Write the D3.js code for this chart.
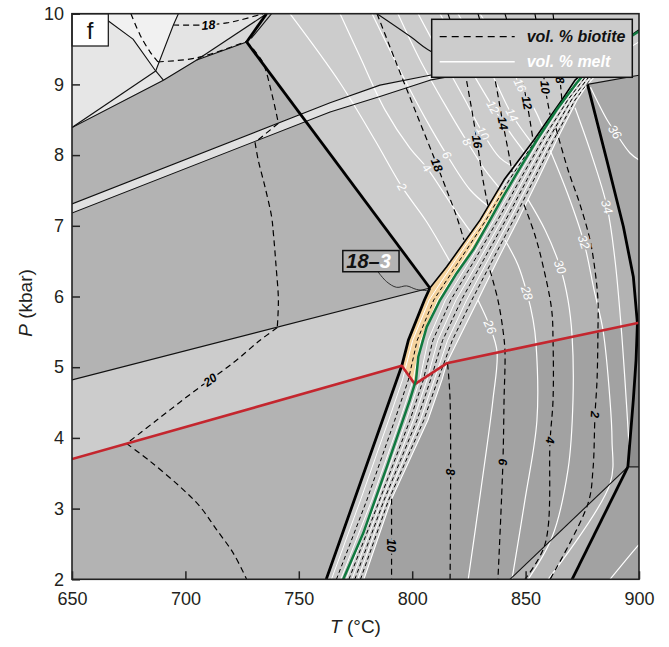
<!DOCTYPE html>
<html><head><meta charset="utf-8">
<script src="https://cdn.jsdelivr.net/npm/d3@7"></script>
<style>
html,body{margin:0;padding:0;background:#fff;}
svg text{font-family:"Liberation Sans",Arial,Helvetica,sans-serif;}
</style></head><body>
<svg id="chart" width="669" height="647"></svg>
<script>
// ---------- axes ----------
const tempTicks = [650,700,750,800,850,900];
const presTicks = [2,3,4,5,6,7,8,9,10];

// ---------- field boundaries (T in °C, P in kbar) ----------
const L1 = [[650,8.39],[690.3,9.06],[705,9.345],[727,9.60]];
const L2 = [[650,8.39],[686.9,9.19]];
const L3 = [[662.3,10],[665.9,9.90],[676.9,9.64],[686.9,9.19]];
const L4 = [[686.9,9.19],[694.7,9.84],[696.9,10]];
const L4b = [[686.9,9.19],[690.3,9.06]];
const L5 = [[705,9.345],[735.8,10]];
const T1 = [[727,9.60],[807.8,6.12]];
const T1top = [[727,9.60],[735.8,10]];
const T1topThin = [[729,9.65],[738,10]];
const lineLow = [[650,4.82],[807.8,6.12]];
const bandU = [[650,7.31],[763.8,8.74],[785.8,8.99],[807.8,9.13],[829.9,9.26],[865.2,9.40]];
const bandLo = [[650,7.18],[763.8,8.61],[785.8,8.83],[807.8,9.06],[829.9,9.19],[865.2,9.35]];
const curveTop = [[784.5,10],[799.5,9.67],[807.0,9.49],[821.1,9.27],[838.7,9.18]];
const redLine = [[650,3.70],[795.4,5.02],[801.2,4.76],[815.2,5.055],[900,5.63]];
const greenLine = [[769.6,2.0],[778.4,2.65],[788.8,3.59],[799.0,4.54],[801.7,4.82],[802.7,5.15],[806.4,5.57],[812.3,5.95],[819.6,6.33],[826.9,6.66],[834.3,7.08],[840.0,7.41],[846.1,7.74],[854.9,8.21],[863.7,8.64],[872.5,9.02],[875.4,9.13],[887.2,9.49],[900,9.75]];
const meltL = [[762.1,2.0],[795.4,5.02],[798.3,5.38],[805.4,5.95],[807.8,6.12],[815.2,6.42],[822.5,6.75],[829.9,7.08],[840.5,7.65],[853.6,8.21],[866.0,8.78],[871.8,9.06],[882.8,9.37],[893.8,9.63],[900,9.77]];
const meltR = [[778.7,2.0],[790.7,3.12],[806.9,4.25],[813.1,4.82],[815.2,5.055],[820.2,5.38],[829.0,5.95],[837.7,6.52],[846.6,7.08],[855.4,7.65],[863.7,8.21],[872.7,8.78],[877.3,9.0],[887.2,9.35],[900,9.60]];
const R1 = [[877.3,9.0],[885.8,7.93],[893.1,6.99],[897.5,6.28],[899.3,5.62],[898.7,5.10],[897.5,4.54],[895.1,3.59]];
const R2 = [[895.1,3.59],[870.5,2.0]];
const triLine = [[843.1,2.0],[895.1,3.59]];
const stripLine = [[895.1,3.59],[900,3.59]];
const thinTR = [[877.3,9.0],[900,9.13]];
const orangeZone = [[795.4,5.02],[798.3,5.38],[805.4,5.95],[807.8,6.12],[815.2,6.42],[822.5,6.75],[829.9,7.08],[837.5,7.5],[841.5,7.5],[834.3,7.08],[826.9,6.66],[819.6,6.33],[812.3,5.95],[806.4,5.57],[802.7,5.15],[801.7,4.82],[801.2,4.76]];

// ---------- isopleths inside the narrow melt-in band ----------
const bandP = [2.0,3.12,4.25,4.82,5.38,5.95,6.52,7.08,7.65,8.21,8.78,9.12];
const bandA = [764.4,777.2,789.6,795.7,800.2,807.5,819.2,831.2,841.7,854.0,866.3,874.3];
const bandB = [766.6,780.0,792.3,798.3,802.2,809.5,821.1,832.5,842.8,854.4,866.6,874.6];
const bandC = [768.5,782.2,794.6,800.4,803.8,811.3,822.7,833.6,843.8,854.7,866.9,874.9];
const bandD = [770.9,784.6,797.4,803.3,807.0,814.6,825.7,836.0,845.9,856.1,867.8,875.9];
const bandE = [772.1,785.6,799.0,804.9,809.1,817.0,827.6,837.7,847.5,857.4,868.6,876.7];
const bandF = [773.4,786.6,800.5,806.5,811.3,819.3,829.6,839.5,849.0,858.6,869.4,877.5];
const bandG = [774.7,787.6,802.1,808.1,813.4,821.7,831.5,841.2,850.6,859.8,870.2,878.2];
const bandH = [776.0,788.6,803.6,809.7,815.6,824.0,833.5,842.9,852.1,861.1,871.0,879.0];
const bandI = [777.2,789.6,805.1,811.3,817.7,826.3,835.5,844.6,853.6,862.3,871.8,879.8];

// ---------- vol. % biotite isopleths ----------
const bio20a = [[676,10],[680.0,9.70],[684.4,9.46],[687.9,9.32]];
const bio20b = [[687.9,9.32],[705.0,9.375],[727.0,9.61]];
const bio20c = [[727.0,9.61],[731.4,9.44],[734.3,9.30],[738.1,8.87],[741.0,8.45]];
const bio20d = [[741.0,8.45],[730.7,8.18]];
const bio20e = [[730.7,8.18],[732.1,7.93],[735.1,7.55],[738.0,7.13],[738.8,6.89],[740.0,6.42],[741.0,5.95],[740.5,5.56]];
const bio20f = [[740.5,5.56],[732.9,5.38],[721.0,5.06],[706.4,4.72],[687.3,4.25],[674.1,3.92]];
const bio20g = [[674.1,3.92],[684.4,3.67],[697.6,3.31],[706.4,3.03],[713.8,2.70],[721.1,2.37],[727.0,2.0]];
const bio18top = [[694.6,9.84],[707.3,9.84],[718.3,9.87],[724.1,9.91],[734.2,10]];
const b18u = [[784.5,10],[792.4,9.35],[801.2,8.64],[810.9,7.86],[819.7,7.12],[822.8,6.80]];
const b16u = [[815.8,10],[822.0,9.35],[825.5,8.78],[828.6,8.19],[831.2,7.65],[833.4,7.29]];
const b14u = [[829.0,10],[835.2,9.27],[840.0,8.45],[843.1,7.93],[844.0,7.76]];
const b12u = [[840.9,10],[846.6,9.35],[850.6,8.74],[853.3,8.21]];
const b10u = [[854.1,10],[856.8,9.49],[858.6,8.96],[860.8,8.57]];
const b8u = [[862.1,10],[863.8,9.49],[865.2,9.06],[866.0,8.78]];
const b10 = [[790.9,3.14],[790.9,2.0]];
const b8 = [[815.6,5.05],[816.7,4.54],[816.7,2.0]];
const b6 = [[834.3,6.37],[837.8,5.95],[840.0,5.53],[840.9,5.22],[840.5,4.54],[840.0,3.66],[837.8,2.0]];
const b4 = [[849.3,7.30],[854.1,6.87],[857.8,6.42],[861.5,5.81],[862.1,5.37],[862.1,4.54],[860.8,3.97],[858.6,2.50],[849.7,2.0]];
const b2 = [[863.4,8.38],[868.7,7.79],[874.0,7.30],[878.4,6.80],[880.6,6.37],[881.9,5.95],[881.9,5.51],[881.5,4.82],[880.6,4.33],[879.7,3.55],[877.5,3.07],[860.8,2.0]];

// ---------- vol. % melt isopleths ----------
const m2 = [[746.1,10],[768.2,9.02],[783.6,8.21],[795.5,7.55],[806.5,7.05],[816.7,6.49]];
const m4 = [[768.2,10],[777.0,9.39],[788.0,8.64],[799.0,8.10],[806.5,7.82],[817.5,7.29],[825.9,6.91]];
const m6 = [[782.3,10],[794.6,9.2],[805.6,8.53],[815.3,8.00],[825.5,7.51],[833.4,7.28]];
const m8 = [[793.7,10],[803.4,9.35],[814.5,8.71],[824.2,8.19],[832.1,7.79],[838.6,7.53]];
const m10 = [[802.6,10],[812.3,9.42],[823.3,8.78],[831.2,8.31],[838.7,7.96],[845.0,7.83]];
const m12 = [[812.3,10],[823.3,9.35],[835.6,8.68],[844.0,8.28],[849.6,8.04]];
const m14 = [[820.2,10],[834.3,9.20],[844.0,8.57],[852.8,8.17]];
const m16 = [[829.9,10],[840.9,9.42],[847.5,8.99],[854.1,8.64],[857.5,8.40]];
const m26 = [[829.0,5.95],[834.3,5.57],[837.4,5.22],[835.6,4.54],[830.3,3.27],[824.7,2.0]];
const m28 = [[840.9,6.80],[846.6,6.45],[850.6,6.05],[853.3,5.67],[854.6,5.33],[855.0,4.25],[849.7,3.12],[844.0,2.0]];
const m30 = [[851.1,7.37],[858.6,6.94],[865.2,6.42],[868.7,5.95],[870.5,5.44],[870.9,4.54],[868.7,3.55],[861.6,2.59],[851.1,2.0]];
const m32 = [[860.8,8.07],[868.7,7.44],[875.7,6.77],[880.2,6.09],[884.1,5.53],[887.2,4.54],[888.1,3.97],[887.2,3.35],[859.9,2.0]];
const m34 = [[871.8,8.67],[878.4,8.07],[885.9,7.27],[889.4,6.52],[892.1,5.58],[893.8,4.82],[895.6,3.90]];
const m36 = [[878.6,8.96],[885.9,8.50],[889.4,8.33],[896.0,8.03],[900,7.93]];
const mRight = [[887.2,2.0],[899.1,2.46],[900,2.49]];

// ---------- contour labels ----------
const labelsMeltUpper = [{t:"2",c:"m2",T:795.5,P:7.55},{t:"4",c:"m4",T:806.5,P:7.82},{t:"6",c:"m6",T:815.3,P:8.00},{t:"8",c:"m8",T:824.2,P:8.19},{t:"10",c:"m10",T:831.2,P:8.31},{t:"12",c:"m12",T:835.6,P:8.68},{t:"14",c:"m14",T:844.0,P:8.57},{t:"16",c:"m16",T:847.5,P:8.99}];
const labelsBioUpper = [{t:"18",c:"b18u",T:810.9,P:7.86},{t:"16",c:"b16u",T:828.6,P:8.19},{t:"14",c:"b14u",T:840.0,P:8.45},{t:"12",c:"b12u",T:850.6,P:8.74},{t:"10",c:"b10u",T:858.6,P:8.96},{t:"8",c:"b8u",T:865.2,P:9.06}];
const labelsMeltRight = [{t:"26",c:"m26",T:834.3,P:5.57},{t:"28",c:"m28",T:850.6,P:6.05},{t:"30",c:"m30",T:865.2,P:6.42},{t:"32",c:"m32",T:875.7,P:6.77},{t:"34",c:"m34",T:885.9,P:7.27}];
const labelsMeltFar = [{t:"36",c:"m36",T:889.4,P:8.33}];
const labelsBioLower = [{t:"10",c:"b10",T:790.9,P:2.48},{t:"8",c:"b8",T:816.7,P:3.52},{t:"6",c:"b6",T:840.0,P:3.66},{t:"4",c:"b4",T:860.8,P:3.97},{t:"2",c:"b2",T:880.6,P:4.33}];
const labelsBioLeft = [{t:"20",c:"bio20f",T:710.9,P:4.82}];
const labelsBioTop = [{t:"18",c:"bio18top",T:710.1,P:9.84}];
const assemblageLabel = {box:[[769.4,6.65],[794.2,6.35]], leader:[[784.9,6.35],[788.7,6.21],[793.1,6.13],[797.5,6.15],[801.9,6.10],[807.8,6.08]], a:"18–", b:"3"};
const panelLetter = "f";
const legendItems = ["vol. % biotite","vol. % melt"];

// ================= drawing =================
const W0=72, W1=639, H0=13.7, H1=579.3;
const X = d3.scaleLinear().domain([650,900]).range([W0,W1]);
const Y = d3.scaleLinear().domain([2,10]).range([H1,H0]);
const svg = d3.select('#chart');
svg.append('defs').append('clipPath').attr('id','clip').append('rect')
  .attr('x',W0).attr('y',H0).attr('width',W1-W0).attr('height',H1-H0);
const plot = svg.append('g').attr('clip-path','url(#clip)');
const lin = d3.line().x(d=>X(d[0])).y(d=>Y(d[1]));
const smooth = d3.line().x(d=>X(d[0])).y(d=>Y(d[1])).curve(d3.curveCatmullRom.alpha(0.5));
const zipBand = arr => arr.map((t,i)=>[t,bandP[i]]);

function poly(pts, fill){ plot.append('path').attr('d', lin(pts)+'Z').attr('fill',fill).attr('stroke',fill).attr('stroke-width',0.4); }
function path(pts, color, w, dash, curved){
  const p = plot.append('path').attr('d',(curved?smooth:lin)(pts)).attr('fill','none')
    .attr('stroke',color).attr('stroke-width',w).attr('stroke-linejoin','round');
  if(dash) p.attr('stroke-dasharray',dash);
  return p;
}

// background & fields
poly([[650,2],[900,2],[900,10],[650,10]], '#cccccc');
poly([[650,10],[662.3,10]].concat(L3.slice(1),[L4b[1],L1[0]]), '#e6e6e6');
poly(L3.concat(L4.slice(1)), '#f1f1f1');
poly(L4.slice().reverse().concat([L1[1],L1[2],L5[1]]), '#e4e4e4');
poly([L1[2],L1[3],T1top[1]], '#d8d8d8');
poly(L1.concat([T1[1],lineLow[0]]), '#b3b3b3');
poly(bandU.concat(bandLo.slice().reverse()), '#e0e0e0');
poly([[650,2],redLine[0],redLine[1],meltL[0]], '#b3b3b3');
poly(meltR.slice(0,5).reverse().concat([[900,2],[900,5.63]]), '#a2a2a2');
poly(meltR.slice(4,13).concat(R1.slice(1,5),[[900,5.63]]), '#b3b3b3');
poly(meltR.slice(12).concat([[900,9.13]]), '#c4c4c4');
poly(R1.slice(0,5).concat([[900,5.63],[900,9.13]]), '#a8a8a8');
poly(R1.slice(4).concat([[900,3.59],[900,5.63]]), '#8e8e8e');
poly([triLine[0],triLine[1],R2[1]], '#b5b5b5');
poly(meltL.concat(meltR.slice().reverse()), '#cbcbcb');
poly(orangeZone, '#f5d39e');

// band interior isopleths
[bandA,bandC,bandD,bandF,bandH].forEach(a=>path(zipBand(a),'#ffffff',1,null,false));
[bandB,bandE,bandG,bandI].forEach(a=>path(zipBand(a),'#000000',1,'4,3',false));
path(meltR,'#ffffff',1.1,null,false);

// melt isopleths (white)
[m2,m4,m6,m8,m10,m12,m14,m16,m26,m28,m30,m32,m34,m36,mRight].forEach(a=>path(a,'#ffffff',1.2,null,true));
// biotite isopleths (dashed)
[bio20a,bio20b,bio20c,bio20d,bio20e,bio20f,bio20g,bio18top,b18u,b16u,b14u,b12u,b10u,b8u,b10,b8,b6,b4,b2]
  .forEach(a=>path(a,'#000000',1.2,'6,4',true));

// thin boundaries
[L1,L2,L3,L4,L4b,L5,T1topThin,lineLow,bandU,bandLo,triLine,stripLine,thinTR].forEach(a=>path(a,'#111',1.1,null,false));
path(curveTop,'#111',1.1,null,true);
path(meltL.slice(4),'#000',1.6,null,false);
// thick boundaries
[T1,T1top,R1,R2].forEach(a=>path(a,'#000',2.8,null,false));
path(meltL.slice(0,5),'#000',2.8,null,false);
// red and green
path(redLine,'#c4262e',2.6,null,false);
path(greenLine,'#117a40',2.5,null,false);

// labels
const contours = {m2,m4,m6,m8,m10,m12,m14,m16,m26,m28,m30,m32,m34,m36,b18u,b16u,b14u,b12u,b10u,b8u,b10,b8,b6,b4,b2,bio20f,bio18top};
function angleAt(pts,px,py){
  let best=1e9, ang=0;
  for(let i=0;i<pts.length-1;i++){
    const ax=X(pts[i][0]), ay=Y(pts[i][1]), bx=X(pts[i+1][0]), by=Y(pts[i+1][1]);
    const dx=bx-ax, dy=by-ay, L2s=dx*dx+dy*dy;
    let t=L2s?((px-ax)*dx+(py-ay)*dy)/L2s:0; t=Math.max(0,Math.min(1,t));
    const qx=ax+t*dx-px, qy=ay+t*dy-py, d=qx*qx+qy*qy;
    if(d<best){best=d; ang=Math.atan2(dy,dx)*180/Math.PI;}
  }
  if(ang>120) ang-=180; if(ang<=-60) ang+=180;
  return ang;
}
function addLabels(list, fill, bg, size, weight, style){
  list.forEach(d=>{
    const px=X(d.T), py=Y(d.P), ang=angleAt(contours[d.c],px,py);
    plot.append('text').attr('transform',`translate(${px},${py}) rotate(${ang})`)
      .attr('text-anchor','middle').attr('dy','0.35em')
      .attr('font-size',size).attr('font-weight',weight).attr('font-style',style)
      .attr('fill',fill).attr('stroke',bg).attr('stroke-width',4).attr('stroke-linejoin','round')
      .attr('paint-order','stroke').text(d.t);
  });
}
addLabels(labelsMeltUpper,'#fff','#cccccc',12,'normal','italic');
addLabels(labelsBioUpper,'#000','#cccccc',12,'bold','italic');
addLabels(labelsMeltRight,'#fff','#b3b3b3',12.5,'normal','italic');
addLabels(labelsMeltFar,'#fff','#a8a8a8',12.5,'normal','italic');
addLabels(labelsBioLower,'#000','#a2a2a2',12,'bold','italic');
addLabels(labelsBioLeft,'#000','#cccccc',12,'bold','italic');
addLabels(labelsBioTop,'#000','#e4e4e4',12.5,'bold','italic');

// assemblage label 18–3
const bx0=X(assemblageLabel.box[0][0]), by0=Y(assemblageLabel.box[0][1]);
const bx1=X(assemblageLabel.box[1][0]), by1=Y(assemblageLabel.box[1][1]);
path(assemblageLabel.leader,'#222',0.9,null,true);
plot.append('rect').attr('x',bx0).attr('y',by0).attr('width',bx1-bx0).attr('height',by1-by0)
  .attr('fill','#b3b3b3').attr('stroke','#111').attr('stroke-width',1.5);
const at = plot.append('text').attr('x',bx0+3.5).attr('y',by1-3.5).attr('font-size',20)
  .attr('font-weight','bold').attr('font-style','italic');
at.append('tspan').attr('fill','#111').text(assemblageLabel.a);
at.append('tspan').attr('fill','#fff').text(assemblageLabel.b);

// panel letter
svg.append('rect').attr('x',W0).attr('y',H0).attr('width',36.3).attr('height',32.3)
  .attr('fill','#fff').attr('stroke','#111').attr('stroke-width',1.2);
svg.append('text').attr('x',W0+18).attr('y',H0+25).attr('text-anchor','middle')
  .attr('font-size',24).attr('fill','#111').text(panelLetter);

// legend
const lg = svg.append('g').attr('transform',`translate(${W0+359.7},${H0+5.6})`);
lg.append('rect').attr('width',200.6).attr('height',58).attr('fill','#cccccc').attr('stroke','#111').attr('stroke-width',1.5);
lg.append('line').attr('x1',8).attr('x2',83).attr('y1',17.4).attr('y2',17.4).attr('stroke','#000').attr('stroke-width',1.3).attr('stroke-dasharray','7,5');
lg.append('line').attr('x1',8).attr('x2',83).attr('y1',42.4).attr('y2',42.4).attr('stroke','#fff').attr('stroke-width',1.5);
lg.append('text').attr('x',95).attr('y',22.5).attr('font-size',16).attr('font-weight','bold').attr('font-style','italic').attr('fill','#111').text(legendItems[0]);
lg.append('text').attr('x',95).attr('y',47.5).attr('font-size',16).attr('font-weight','bold').attr('font-style','italic').attr('fill','#fff').text(legendItems[1]);

// frame & axes
svg.append('rect').attr('x',W0).attr('y',H0).attr('width',W1-W0).attr('height',H1-H0)
  .attr('fill','none').attr('stroke','#222').attr('stroke-width',1.6);
const ax = svg.append('g').attr('transform',`translate(0,${H1})`)
  .call(d3.axisBottom(X).tickValues(tempTicks).tickSize(-8).tickPadding(13).tickFormat(d3.format('d')));
const ay = svg.append('g').attr('transform',`translate(${W0},0)`)
  .call(d3.axisLeft(Y).tickValues(presTicks).tickSize(-8).tickPadding(8).tickFormat(d3.format('d')));
[ax,ay].forEach(g=>{
  g.select('.domain').remove();
  g.selectAll('.tick line').attr('stroke','#222').attr('stroke-width',1.5);
  g.selectAll('.tick text').attr('font-size',18).attr('fill','#231f20')
    .attr('font-family','"Liberation Sans",Arial,sans-serif');
});
const xt = svg.append('text').attr('x',(W0+W1)/2).attr('y',633).attr('text-anchor','middle')
  .attr('font-size',19).attr('fill','#231f20');
xt.append('tspan').attr('font-style','italic').text('T');
xt.append('tspan').text(' (°C)');
const yt = svg.append('text').attr('transform','translate(32,303) rotate(-90)').attr('text-anchor','middle')
  .attr('font-size',19).attr('fill','#231f20');
yt.append('tspan').attr('font-style','italic').text('P');
yt.append('tspan').text(' (kbar)');
</script></body></html>
